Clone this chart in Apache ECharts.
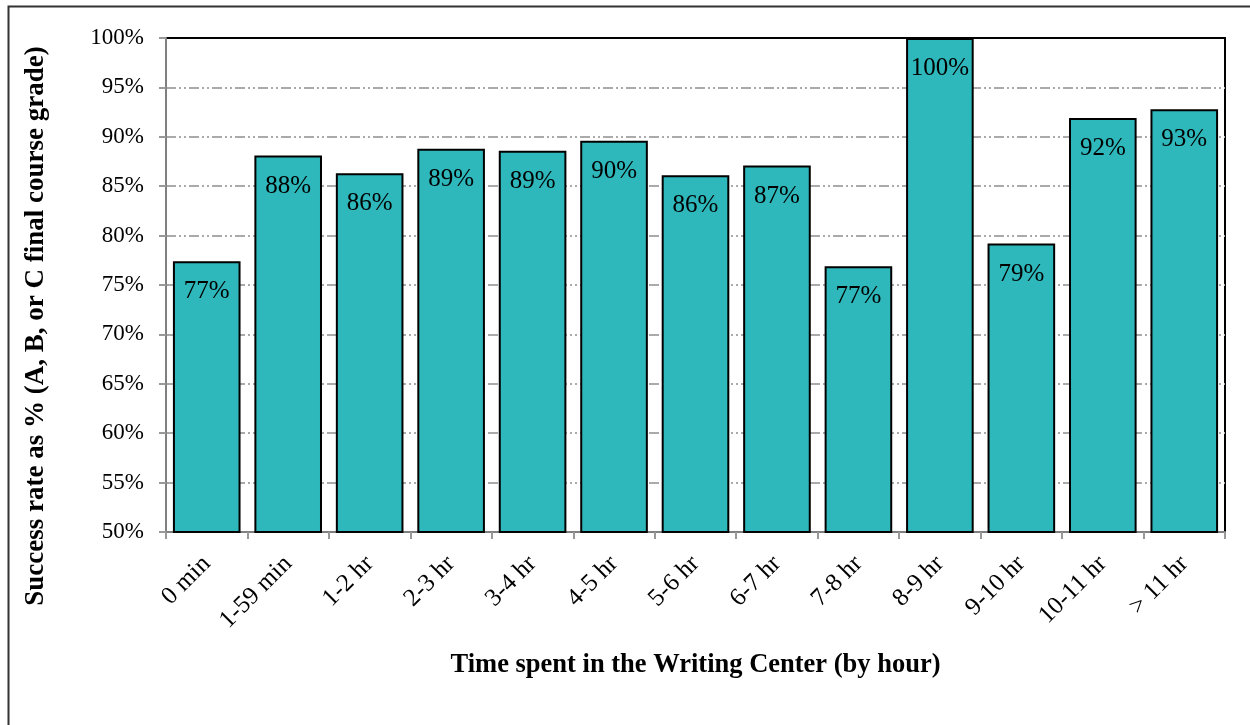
<!DOCTYPE html>
<html>
<head>
<meta charset="utf-8">
<script src="https://cdn.jsdelivr.net/npm/echarts@6/dist/echarts.min.js"></script>
<style>html,body{margin:0;padding:0;background:#fff;}#c{width:1250px;height:725px;}</style>
</head>
<body>
<div id="c"></div>
<script>
var categories = ['0 min','1-59 min','1-2 hr','2-3 hr','3-4 hr','4-5 hr','5-6 hr','6-7 hr','7-8 hr','8-9 hr','9-10 hr','10-11 hr','> 11 hr'];
var successRate = [77.4, 88.1, 86.3, 88.8, 88.6, 89.6, 86.1, 87.1, 76.9, 100, 79.2, 91.9, 92.8];
var yTicks = [50, 55, 60, 65, 70, 75, 80, 85, 90, 95, 100];

var serif = '"Liberation Serif","Times New Roman",serif';
var chart = echarts.init(document.getElementById('c'));
chart.setOption({
  animation: false,
  backgroundColor: '#fff',
  graphic: [{
    type: 'rect', left: 6, top: 4, silent: true,
    shape: {x: 0, y: 0, width: 1270, height: 740},
    style: {fill: 'none', stroke: '#333', lineWidth: 2}
  }],
  grid: {left: 166, top: 38, right: 25, bottom: 193, show: true, borderColor: '#000', borderWidth: 2, backgroundColor: 'transparent'},
  xAxis: {
    type: 'category',
    data: categories,
    axisLine: {lineStyle: {color: '#808080', width: 2}},
    axisTick: {show: true, length: 7, lineStyle: {color: '#999', width: 2}},
    axisLabel: {rotate: 45, color: '#000', fontFamily: serif, fontSize: 25, margin: 28},
    name: 'Time spent in the Writing Center (by hour)',
    nameLocation: 'middle',
    nameGap: 120,
    nameTextStyle: {color: '#000', fontFamily: serif, fontSize: 26.5, fontWeight: 'bold'}
  },
  yAxis: {
    type: 'value',
    min: yTicks[0], max: yTicks[yTicks.length - 1], interval: 5,
    axisLine: {show: true, lineStyle: {color: '#808080', width: 2}},
    axisTick: {show: true, length: 7, lineStyle: {color: '#999', width: 2}},
    axisLabel: {color: '#000', fontFamily: serif, fontSize: 23, margin: 22, formatter: function(v){return v + '%';}},
    splitLine: {show: true, showMaxLine: false, showMinLine: false, lineStyle: {color: '#aaa', width: 2, type: [10, 3, 2, 3, 2, 3]}},
    name: 'Success rate as % (A, B, or C final course grade)',
    nameLocation: 'middle',
    nameGap: 116,
    nameTextStyle: {color: '#000', fontFamily: serif, fontSize: 27, fontWeight: 'bold', padding: [0, 82, 0, 0]}
  },
  series: [{
    type: 'bar',
    data: successRate,
    barWidth: '83%',
    itemStyle: {color: '#2EB8BB', borderColor: '#000', borderWidth: 2},
    label: {
      show: true, position: 'insideTop', distance: 18,
      color: '#000', fontFamily: serif, fontSize: 25,
      formatter: function(p){return Math.round(p.value) + '%';}
    },
    z: 3
  }]
});
</script>
</body>
</html>
